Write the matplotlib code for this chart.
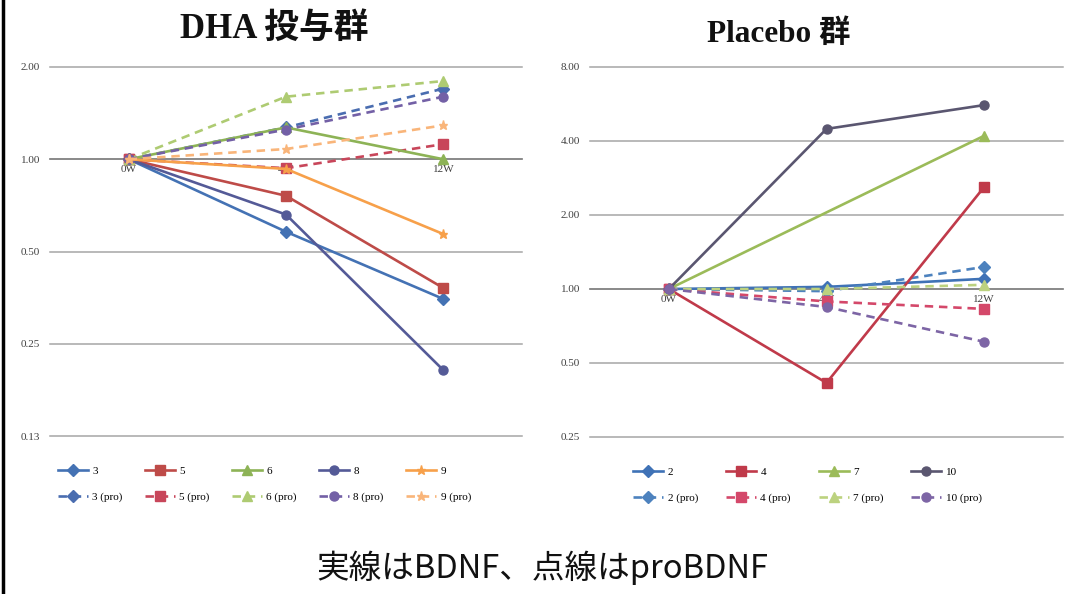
import numpy as np
import matplotlib
matplotlib.use("Agg")
import matplotlib.pyplot as plt
from matplotlib.ticker import FixedLocator, FixedFormatter, NullLocator

plt.rcParams['font.family'] = ['Liberation Serif', 'Noto Sans CJK JP', 'DejaVu Sans']

weeks = ["0W", "4W", "12W"]

# DHA group (BDNF solid, proBDNF dashed), ratio to 0W
dha_ids = ["3", "5", "6", "8", "9"]
dha_bdnf = [
    [1.0, 0.58, 0.35],
    [1.0, 0.76, 0.38],
    [1.0, 1.27, 1.00],
    [1.0, 0.66, 0.205],
    [1.0, 0.93, 0.57],
]
dha_pro = [
    [1.0, 1.27, 1.70],
    [1.0, 0.935, 1.12],
    [1.0, 1.60, 1.80],
    [1.0, 1.25, 1.60],
    [1.0, 1.08, 1.29],
]

# Placebo group
pla_ids = ["2", "4", "7", "10"]
pla_bdnf = [
    [1.0, 1.02, 1.10],
    [1.0, 0.415, 2.6],
    [1.0, np.nan, 4.2],
    [1.0, 4.48, 5.6],
]
pla_pro = [
    [1.0, 0.98, 1.23],
    [1.0, 0.89, 0.83],
    [1.0, 1.00, 1.04],
    [1.0, 0.845, 0.61],
]

dha_solid_colors = ["#4472B4", "#BE4B48", "#8DB356", "#545A97", "#F7A04A"]
dha_pro_colors = ["#4A6DB0", "#C8465A", "#AECB72", "#7360A6", "#F9B57A"]
dha_markers = ["D", "s", "^", "o", "*"]

pla_solid_colors = ["#3F72B6", "#C03A4A", "#9BBB59", "#5A5670"]
pla_pro_colors = ["#4D82BE", "#D4486A", "#BCD27F", "#7D65A5"]
pla_markers = ["D", "s", "^", "o"]

W, H = 1073, 594
fig = plt.figure(figsize=(W / 100, H / 100), dpi=100)


def make_axes(x0, x1, ytop, ybot):
    return fig.add_axes([x0 / W, 1 - ybot / H, (x1 - x0) / W, (ybot - ytop) / H])


def style(ax, ylo, yhi, ticks, ticklabels):
    ax.set_yscale("log", base=2)
    ax.set_ylim(ylo, yhi)
    ax.set_xlim(-0.5, 2.5)
    ax.yaxis.set_major_locator(FixedLocator(ticks))
    ax.yaxis.set_major_formatter(FixedFormatter(ticklabels))
    ax.yaxis.set_minor_locator(NullLocator())
    ax.grid(axis="y", color="#a6a6a6", lw=1.1)
    for gl in ax.get_ygridlines():
        gl.set_clip_on(False)
    ax.set_axisbelow(True)
    for s in ["left", "right", "top"]:
        ax.spines[s].set_visible(False)
    ax.spines["bottom"].set_position(("data", 1.0))
    ax.spines["bottom"].set_color("#7f7f7f")
    ax.spines["bottom"].set_linewidth(1.1)
    ax.spines["bottom"].set_zorder(1)
    ax.set_xticks(range(len(weeks)))
    ax.set_xticklabels(weeks, fontsize=8, color="#404040")
    ax.tick_params(axis="x", length=0, pad=4)
    ax.tick_params(axis="y", length=0, pad=7, labelsize=8, labelcolor="#404040")


def draw(ax, ids, solid, pro, sc, pc, markers):
    x = np.arange(len(weeks))
    handles = []
    labels = []
    for i, sid in enumerate(ids):
        ys = np.array(solid[i], dtype=float)
        m = ~np.isnan(ys)
        h1, = ax.plot(x[m], ys[m], color=sc[i], lw=1.9, marker=markers[i], ms=6.5,
                      zorder=3)
        yp = np.array(pro[i], dtype=float)
        h2, = ax.plot(x, yp, color=pc[i], lw=1.9, ls=(0, (3.2, 2.2)), marker=markers[i],
                      ms=6.5, zorder=3)
        handles += [h1, h2]
        labels += [sid, sid + " (pro)"]
    return handles, labels


ax1 = make_axes(50, 522, 67, 436)
style(ax1, 0.125, 2.0, [0.125, 0.25, 0.5, 1, 2], ["0.13", "0.25", "0.50", "1.00", "2.00"])
h, l = draw(ax1, dha_ids, dha_bdnf, dha_pro, dha_solid_colors, dha_pro_colors, dha_markers)
ax1.legend(h, l, ncol=5, loc="upper left", bbox_to_anchor=(0.0, -0.06),
           frameon=False, handlelength=2.7, columnspacing=2.0,
           handletextpad=0.4, labelspacing=1.45, borderaxespad=0.3,
           prop={"family": "Liberation Serif", "size": 8})
fig.text(274 / W, 1 - 29 / H, "DHA 投与群", ha="center", va="center", fontsize=25,
         fontweight="bold", color="#111111")

ax2 = make_axes(590, 1063, 67, 437)
style(ax2, 0.25, 8.0, [0.25, 0.5, 1, 2, 4, 8], ["0.25", "0.50", "1.00", "2.00", "4.00", "8.00"])
h, l = draw(ax2, pla_ids, pla_bdnf, pla_pro, pla_solid_colors, pla_pro_colors, pla_markers)
ax2.legend(h, l, ncol=4, loc="upper left", bbox_to_anchor=(0.075, -0.06),
           frameon=False, handlelength=2.7, columnspacing=2.5,
           handletextpad=0.4, labelspacing=1.45, borderaxespad=0.3,
           prop={"family": "Liberation Serif", "size": 8})
fig.text(779 / W, 1 - 34 / H, "Placebo 群", ha="center", va="center", fontsize=22.5,
         fontweight="bold", color="#111111")

fig.text(542 / W, 1 - 568 / H, "実線はBDNF、点線はproBDNF", ha="center", va="center",
         fontsize=23.5, color="#111111", family=["Noto Sans CJK JP", "DejaVu Sans"])

# left border line as in the reference
fig.add_artist(plt.Line2D([3 / W, 3 / W], [0, 1], color="black", lw=2.5,
                          transform=fig.transFigure))

fig.savefig("out.png", dpi=100, facecolor="white")
